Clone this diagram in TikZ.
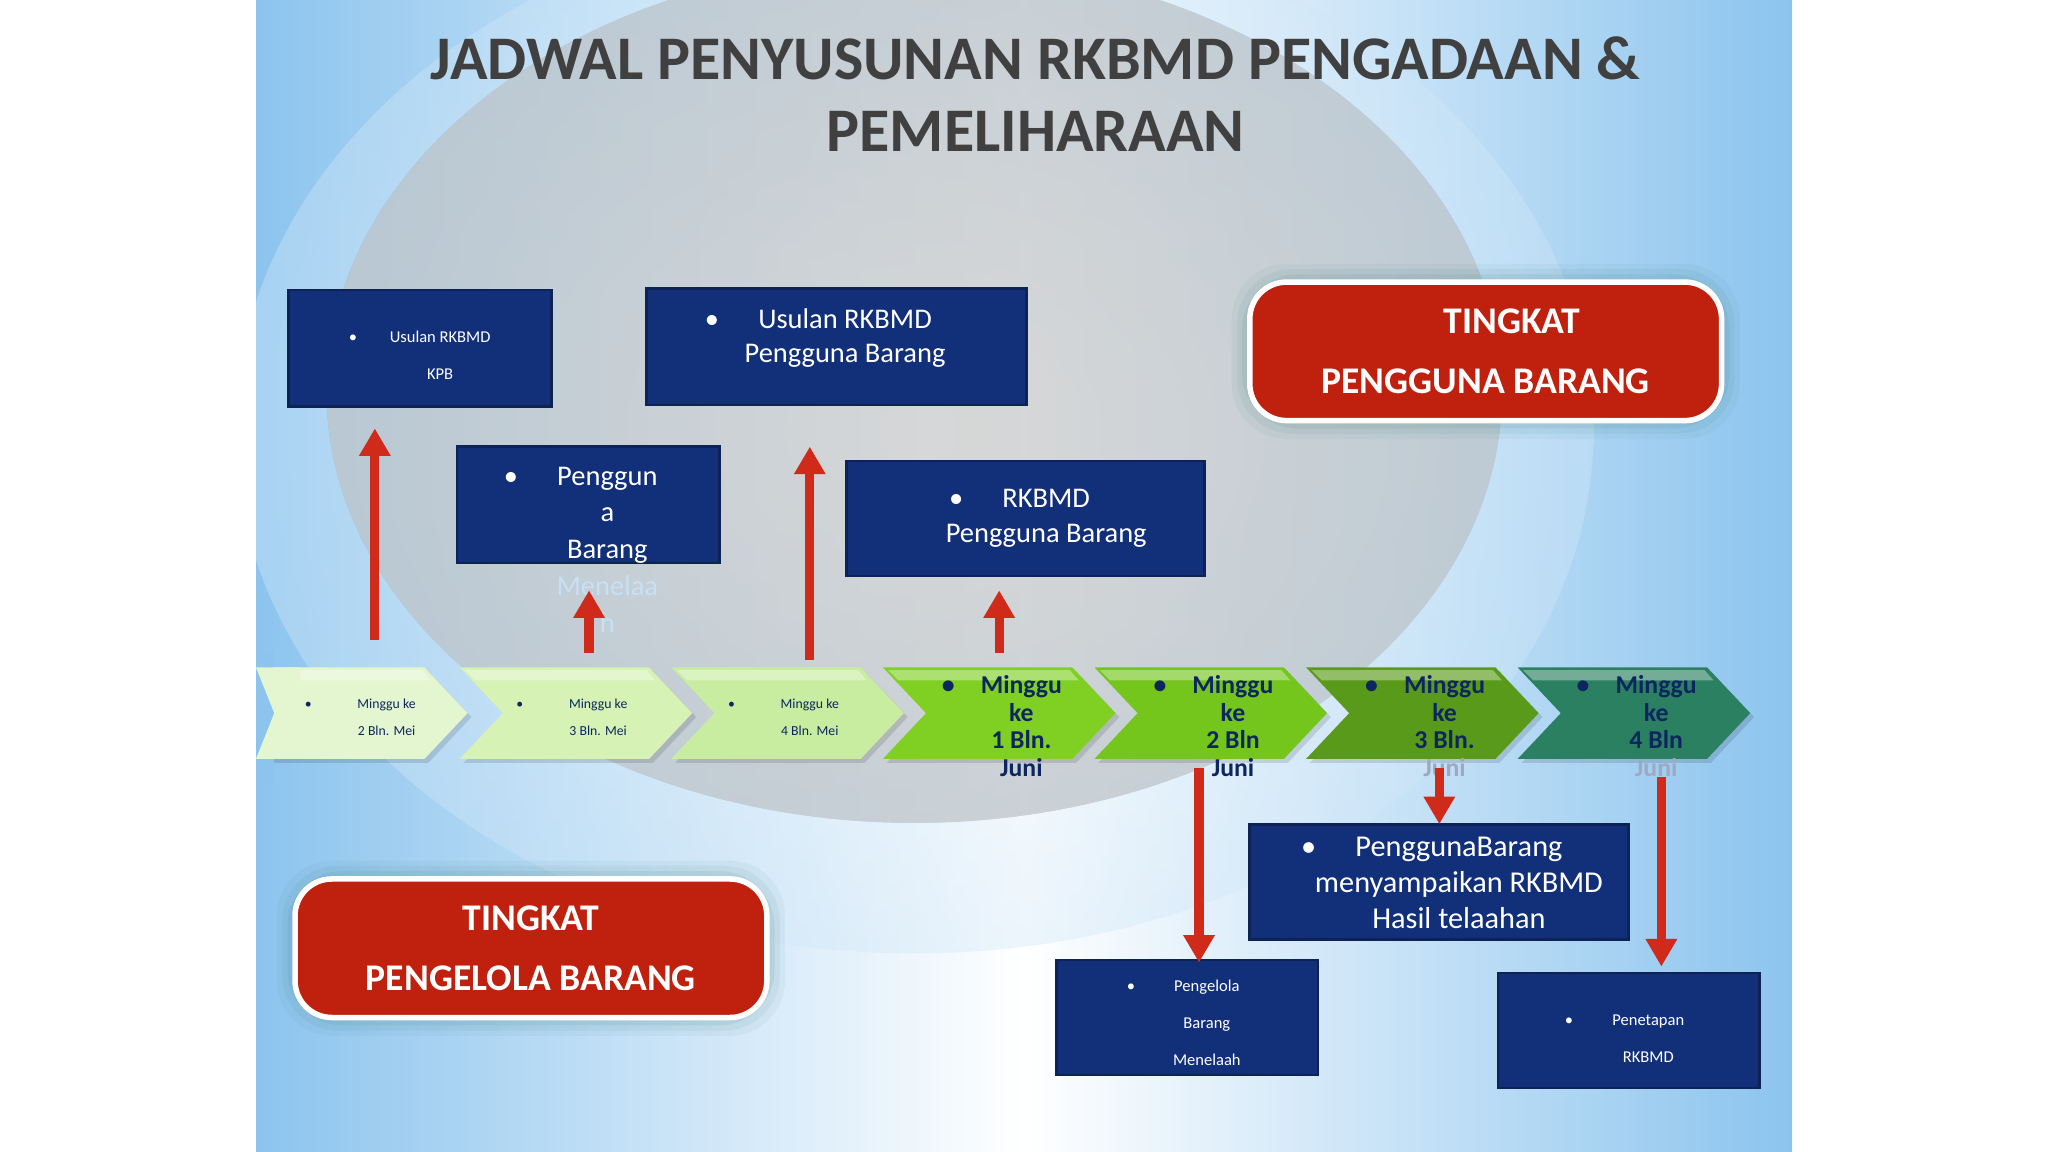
\documentclass[tikz,border=0pt]{standalone}
\usepackage{fontspec}
\setmainfont{Carlito}
\usetikzlibrary{arrows.meta}
\definecolor{navy}{HTML}{12307A}
\definecolor{rbox}{HTML}{C0200E}
\definecolor{sky}{HTML}{8CC4EE}
\definecolor{dtext}{HTML}{0E2660}
\definecolor{arr}{HTML}{D02A1A}
\definecolor{chA}{HTML}{E3F6CF}
\newcommand{\bul}[1]{\llap{\textbullet\hspace{#1}}}
\tikzset{
 nbox/.style={fill=navy,draw=navy!70!black,line width=0.6pt,text=white,align=center,inner sep=0pt},
 rb/.style={fill=rbox,draw=white,line width=1.2pt,rounded corners=8,text=white,align=center,font=\bfseries\fontsize{8.2}{13}\selectfont},
 uparr/.style={draw=arr,line width=2pt,-{Triangle[length=6pt,width=6.5pt]}},
 ctext/.style={align=center,text=dtext,font=\fontsize{3}{6}\selectfont},
 btext/.style={align=center,text=dtext,font=\bfseries\fontsize{5.6}{6}\selectfont},
}
\begin{document}
\begin{tikzpicture}[x=0.01cm,y=-0.01cm]
\useasboundingbox (0,0) rectangle (1568,882);
\fill[white] (0,0) rectangle (1568,882);
\fill[left color=sky,right color=sky,middle color=white] (196,0) rectangle (1372,882);
\begin{scope}
\clip (196,0) rectangle (1372,882);
\fill[inner color=white,outer color=white,opacity=0.5,path fading=none] (700,300) ellipse (450 and 330);
\shade[inner color=white,outer color=sky!40!white,opacity=0.4] (700,330) ellipse (520 and 400);
\end{scope}
% title
\node[text=black!75,font=\bfseries\fontsize{13.5}{15.5}\selectfont,align=center] (title) at (793,72) {JADWAL PENYUSUNAN RKBMD PENGADAAN \&\\PEMELIHARAAN};
% red boxes with glow
\foreach \i/\o in {14/0.06,10/0.08,6/0.1}{
 \fill[teal!50!gray,opacity=\o,rounded corners=12] (957-\i,216-\i) rectangle (1318+\i,322+\i);
 \fill[teal!50!gray,opacity=\o,rounded corners=12] (226-\i,673-\i) rectangle (587+\i,779+\i);}
\node[rb,minimum width=3.61cm,minimum height=1.06cm] (r1) at (1137.5,269) {\hspace*{0.4cm}TINGKAT\\PENGGUNA BARANG};
\node[rb,minimum width=3.61cm,minimum height=1.06cm] (r2) at (406.5,726) {TINGKAT\\PENGELOLA BARANG};
% chevrons
\foreach \n/\x/\c in {1/180/E3F6CF,2/352/D6F2B4,3/514/C8EDA0,4/676/80D024,5/838/74C61C,6/1000/5A9A1A,7/1162/2C8062}{
 \definecolor{cc}{HTML}{\c}
 \fill[black,opacity=0.12] (\x+3,514) -- (\x+148,514) -- (\x+181,549) -- (\x+148,584) -- (\x+3,584) -- (\x+36,549) -- cycle;
 \fill[cc] (\x,511) -- (\x+145,511) -- (\x+178,546) -- (\x+145,581) -- (\x,581) -- (\x+33,546) -- cycle;
 \fill[white,opacity=0.35] (\x+4,513) -- (\x+143,513) -- (\x+150,521) -- (\x+12,521) -- cycle;
 \coordinate (ch\n) at (\x+100,546);}
\fill[white] (0,500) rectangle (196,600);
\fill[sky] (196,500) rectangle (210,600);
\fill[chA] (196,511) -- (230,511) -- (230,581) -- (196,581) -- (210,546) -- cycle;
\node[ctext] (c1) at (296,549) {\bul{0.35cm}Minggu ke\\2 Bln. Mei};
\node[ctext] (c2) at (458,549) {\bul{0.35cm}Minggu ke\\3 Bln. Mei};
\node[ctext] (c3) at (620,549) {\bul{0.35cm}Minggu ke\\4 Bln. Mei};
\node[btext] (c4) at (782,556) {\bul{0.2cm}Minggu\\ke\\1 Bln.\\Juni};
\node[btext] (c5) at (944,556) {\bul{0.2cm}Minggu\\ke\\2 Bln\\Juni};
\node[btext] (c6) at (1106,556) {\bul{0.2cm}Minggu\\ke\\3 Bln.\\\textcolor{dtext!40!white}{Juni}};
\node[btext] (c7) at (1268,556) {\bul{0.2cm}Minggu\\ke\\4 Bln\\\textcolor{dtext!40!white}{Juni}};
% navy boxes
\node[nbox,minimum width=2.01cm,minimum height=0.89cm,font=\fontsize{3.6}{8}\selectfont] (b1) at (321.5,266.5) {};
\node[text=white,align=center,font=\fontsize{3.6}{8}\selectfont] (b1t) at (337,272) {\bul{0.25cm}Usulan RKBMD\\KPB};
\node[nbox,minimum width=2.01cm,minimum height=0.89cm] (b2) at (450.5,386.5) {};
\node[text=white,align=center,font=\fontsize{6.2}{8}\selectfont,anchor=north] (b2t) at (465,345) {\bul{0.3cm}Penggun\\a\\Barang\\\textcolor{white!50!sky}{Menelaa}\\\textcolor{white!50!sky}{h}};
\node[nbox,minimum width=2.91cm,minimum height=0.89cm,font=\fontsize{6.2}{7.5}\selectfont] (b3) at (640.5,265.5) {};
\node[text=white,align=center,font=\fontsize{6.2}{7.5}\selectfont] (b3t) at (647,259) {\bul{0.3cm}Usulan RKBMD\\Pengguna Barang};
\node[nbox,minimum width=2.74cm,minimum height=0.88cm] (b4) at (785,397) {};
\node[text=white,align=center,font=\fontsize{6.2}{7.5}\selectfont] (b4t) at (801,397) {\bul{0.3cm}RKBMD\\Pengguna Barang};
\node[nbox,minimum width=2.90cm,minimum height=0.88cm] (b5) at (1102,675) {};
\node[text=white,align=center,font=\fontsize{6.6}{7.8}\selectfont] (b5t) at (1117,676) {\bul{0.3cm}PenggunaBarang\\menyampaikan RKBMD\\Hasil telaahan};
\node[nbox,minimum width=2.00cm,minimum height=0.88cm] (b6) at (909,779) {};
\node[text=white,align=center,font=\fontsize{3.6}{8}\selectfont] (b6t) at (924,783) {\bul{0.3cm}Pengelola\\Barang\\Menelaah};
\node[nbox,minimum width=2.00cm,minimum height=0.88cm] (b7) at (1247,789) {};
\node[text=white,align=center,font=\fontsize{3.6}{8}\selectfont] (b7t) at (1262,795) {\bul{0.3cm}Penetapan\\RKBMD};
% arrows
\coordinate (a1s) at (287,490); \coordinate (a1e) at (287,328);
\coordinate (a2s) at (451,500); \coordinate (a2e) at (451,452);
\coordinate (a3s) at (620,505); \coordinate (a3e) at (620,342);
\coordinate (a4s) at (765,500); \coordinate (a4e) at (765,452);
\coordinate (d1s) at (918,588); \coordinate (d1e) at (918,737);
\coordinate (d2s) at (1102,588); \coordinate (d2e) at (1102,631);
\coordinate (d3s) at (1272,595); \coordinate (d3e) at (1272,740);
\foreach \s/\e in {a1s/a1e,a2s/a2e,a3s/a3e,a4s/a4e,d1s/d1e,d2s/d2e,d3s/d3e}
 \draw[uparr] (\s) -- (\e);
\end{tikzpicture}
\end{document}
